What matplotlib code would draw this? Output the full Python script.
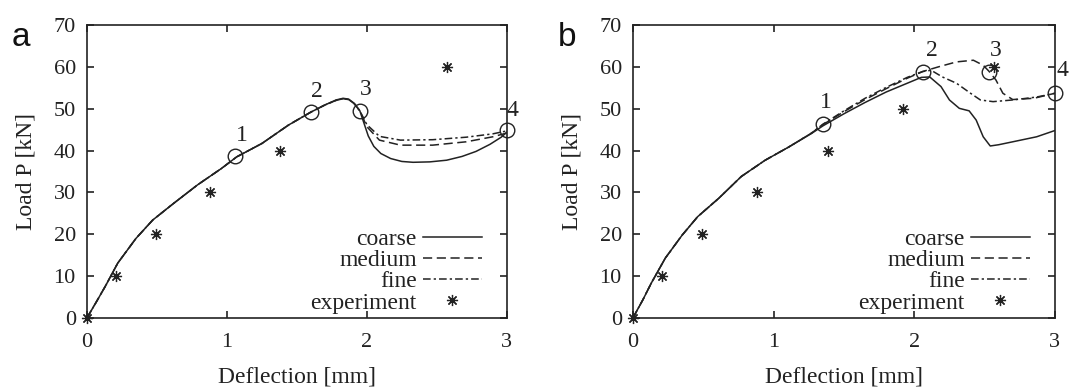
import matplotlib
matplotlib.use("Agg")
from matplotlib import pyplot as plt

plt.rcParams["font.family"] = ["Liberation Serif", "DejaVu Serif"]

# ---- panel a ----
a_coarse_x = [0, 0.07, 0.13, 0.22, 0.35, 0.47, 0.62, 0.79, 0.96, 1.07, 1.25, 1.44, 1.6, 1.7, 1.78, 1.83, 1.87, 1.91, 1.95,
              1.98, 2.01, 2.05, 2.1, 2.17, 2.25, 2.33, 2.45, 2.57, 2.68, 2.78, 2.88, 2.96, 3.0]
a_coarse_y = [0, 4.0, 7.5, 13.1, 19.0, 23.4, 27.4, 31.8, 35.7, 38.5, 41.7, 46.1, 49.2, 50.9, 52.1, 52.5, 52.3, 51.3, 49.5,
              46.5, 43.5, 41.0, 39.3, 38.1, 37.4, 37.2, 37.3, 37.7, 38.6, 39.8, 41.5, 43.2, 44.4]
a_medium_x = [0, 0.07, 0.13, 0.22, 0.35, 0.47, 0.62, 0.79, 0.96, 1.07, 1.25, 1.44, 1.6, 1.7, 1.78, 1.83, 1.87, 1.91, 1.95,
              2.0, 2.09, 2.24, 2.47, 2.71, 2.9, 3.0]
a_medium_y = [0, 4.0, 7.5, 13.1, 19.0, 23.4, 27.4, 31.8, 35.7, 38.5, 41.7, 46.1, 49.2, 50.9, 52.0, 52.4, 52.2, 51.2, 49.5,
              45.7, 42.5, 41.3, 41.3, 42.1, 43.3, 44.2]
a_fine_x = [0, 0.07, 0.13, 0.22, 0.35, 0.47, 0.62, 0.79, 0.96, 1.07, 1.25, 1.44, 1.6, 1.7, 1.78, 1.83, 1.87, 1.91, 1.95,
            2.0, 2.09, 2.24, 2.47, 2.71, 2.9, 3.0]
a_fine_y = [0, 4.0, 7.5, 13.1, 19.0, 23.4, 27.4, 31.8, 35.7, 38.5, 41.7, 46.1, 49.2, 50.9, 52.0, 52.4, 52.2, 51.2, 49.5,
            46.2, 43.4, 42.5, 42.6, 43.2, 44.0, 44.7]
a_exp_x = [0, 0.21, 0.49, 0.88, 1.38, 2.57]
a_exp_y = [0, 10, 20, 30, 40, 60]
a_mark_x = [1.06, 1.6, 1.95, 3.0]
a_mark_y = [38.7, 49.2, 49.4, 44.9]
a_mark_lbl_x = [1.11, 1.64, 1.99, 3.04]
a_mark_lbl_y = [43.7, 54.2, 54.5, 49.7]

# ---- panel b ----
b_coarse_x = [0, 0.07, 0.13, 0.23, 0.35, 0.46, 0.61, 0.77, 0.94, 1.11, 1.27, 1.35, 1.5, 1.65, 1.8, 1.95, 2.05, 2.11,
              2.19, 2.25, 2.32, 2.39, 2.44, 2.49, 2.54, 2.6, 2.7, 2.87, 3.0]
b_coarse_y = [0, 4.3, 8.3, 14.3, 19.8, 24.2, 28.6, 33.8, 37.7, 40.9, 44.1, 45.9, 48.8, 51.5, 54.0, 56.1, 57.5, 57.6,
              55.3, 52.1, 50.1, 49.5, 47.3, 43.3, 41.1, 41.4, 42.1, 43.3, 44.8]
b_medium_x = [0, 0.07, 0.13, 0.23, 0.35, 0.46, 0.61, 0.77, 0.94, 1.11, 1.27, 1.35, 1.5, 1.65, 1.8, 1.95, 2.06,
              2.17, 2.3, 2.42, 2.49, 2.53, 2.58, 2.63, 2.7, 2.85, 3.0]
b_medium_y = [0, 4.3, 8.3, 14.3, 19.8, 24.2, 28.6, 33.8, 37.7, 40.9, 44.2, 46.2, 49.3, 52.2, 54.8, 57.3, 58.9,
              60.0, 61.2, 61.6, 60.4, 59.0, 56.9, 53.7, 52.2, 52.5, 53.7]
b_fine_x = [0, 0.07, 0.13, 0.23, 0.35, 0.46, 0.61, 0.77, 0.94, 1.11, 1.27, 1.35, 1.5, 1.65, 1.8, 1.95, 2.06,
            2.12, 2.2, 2.3, 2.4, 2.47, 2.56, 2.7, 2.87, 3.0]
b_fine_y = [0, 4.3, 8.3, 14.3, 19.8, 24.2, 28.6, 33.8, 37.7, 40.9, 44.2, 46.3, 49.5, 52.5, 55.1, 57.5, 58.9,
            59.2, 57.6, 56.1, 53.7, 52.1, 51.7, 52.1, 52.8, 53.7]
b_exp_x = [0, 0.21, 0.49, 0.88, 1.39, 1.92, 2.57]
b_exp_y = [0, 10, 20, 30, 40, 50, 60]
b_mark_x = [1.35, 2.06, 2.53, 3.0]
b_mark_y = [46.3, 58.9, 58.9, 53.7]
b_mark_lbl_x = [1.37, 2.125, 2.58, 3.05]
b_mark_lbl_y = [51.6, 64.0, 64.0, 59.2]

xticks = [0, 1, 2, 3]
yticks = [0, 10, 20, 30, 40, 50, 60, 70]

panels = [
    ("a", a_coarse_x, a_coarse_y, a_medium_x, a_medium_y, a_fine_x, a_fine_y, a_exp_x, a_exp_y,
     a_mark_x, a_mark_y, a_mark_lbl_x, a_mark_lbl_y),
    ("b", b_coarse_x, b_coarse_y, b_medium_x, b_medium_y, b_fine_x, b_fine_y, b_exp_x, b_exp_y,
     b_mark_x, b_mark_y, b_mark_lbl_x, b_mark_lbl_y),
]

fig = plt.figure(figsize=(10.71, 3.92), dpi=100)
ax_rects = [[0.0812, 0.189, 0.392, 0.747], [0.591, 0.189, 0.394, 0.747]]
col = "#222222"

for rect, p in zip(ax_rects, panels):
    (letter, cx, cy, mx, my, fx, fy, ex, ey, kx, ky, lx, ly) = p
    ax = fig.add_axes(rect)
    ax.plot(cx, cy, "-", color=col, lw=1.1, label="coarse")
    ax.plot(mx, my, color=col, lw=1.1, dashes=(6, 3), label="medium")
    ax.plot(fx, fy, color=col, lw=1.1, dashes=(5, 2, 1.5, 2), label="fine")
    ax.plot(ex, ey, ls="none", marker=(8, 2, 0), ms=8, mew=0.9, color=col, label="experiment", clip_on=False)
    ax.plot(kx, ky, ls="none", marker="o", ms=10.5, mfc="none", mec=col, mew=1.0, clip_on=False)
    for i in range(len(kx)):
        ax.text(lx[i], ly[i], str(i + 1), fontsize=17, ha="center", va="center", color=col, clip_on=False)

    ax.set_xlim(0, 3)
    ax.set_ylim(0, 70)
    ax.set_xticks(xticks)
    ax.set_yticks(yticks)
    ax.tick_params(direction="in", length=5, width=1.2, top=True, right=True, labelsize=16, pad=8, colors=col)
    ax.tick_params(axis="x", pad=11)
    for s in ax.spines.values():
        s.set_linewidth(1.2)
        s.set_color(col)
    ax.set_xlabel("Deflection [mm]", fontsize=17, color=col, labelpad=10)
    ax.set_ylabel("Load P [kN]", fontsize=17, color=col, labelpad=12)

    # markerfirst=False packs rows right-aligned, so labels end right before the sample
    leg = ax.legend(loc="lower right", bbox_to_anchor=(0.94, 0.015), frameon=False, markerfirst=False,
                    fontsize=17, handlelength=2.5, handletextpad=0.25, labelspacing=-0.02,
                    borderpad=0.0, borderaxespad=0.0)
    for t in leg.get_texts():
        t.set_color(col)

    fig.text(rect[0] - 0.07, 0.905, letter, fontsize=24, family="Liberation Sans", color="#111111",
             ha="left", va="center")

fig.savefig("out.png", dpi=100)
